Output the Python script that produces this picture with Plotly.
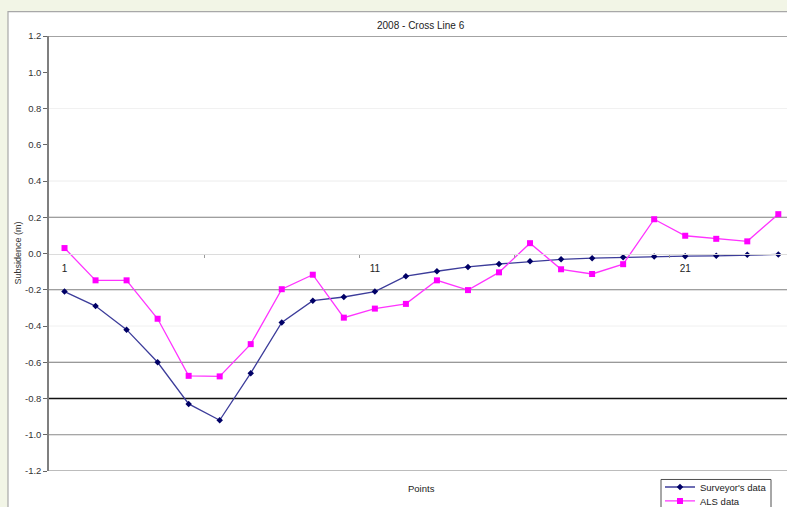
import plotly.graph_objects as go

points = list(range(1, 25))
surveyor = [-0.21, -0.29, -0.42, -0.60, -0.83, -0.92, -0.66, -0.38, -0.26, -0.24,
            -0.21, -0.125, -0.098, -0.074, -0.058, -0.043, -0.032, -0.026, -0.021, -0.016,
            -0.015, -0.013, -0.007, -0.005]
als = [0.03, -0.148, -0.148, -0.36, -0.675, -0.678, -0.50, -0.197, -0.117, -0.354,
       -0.304, -0.278, -0.148, -0.202, -0.104, 0.057, -0.087, -0.113, -0.059, 0.189,
       0.098, 0.081, 0.067, 0.217]
y_ticks = [1.2, 1.0, 0.8, 0.6, 0.4, 0.2, 0.0, -0.2, -0.4, -0.6, -0.8, -1.0, -1.2]
y_tick_labels = ["1.2", "1.0", "0.8", "0.6", "0.4", "0.2", "0.0", "-0.2", "-0.4", "-0.6", "-0.8", "-1.0", "-1.2"]
x_label_vals = [1, 11, 21]
x_label_text = ["1", "11", "21"]
x_tick_marks = [5.5, 10.5, 15.5, 20.5]

# gridline appearance per level (value, colour, width)
grid_styles = [
    (1.2, "#858585", 1.4), (0.8, "#f1f1f1", 1), (0.4, "#ececec", 1),
    (0.2, "#7f7f7f", 1.2), (-0.2, "#7f7f7f", 1.2), (-0.4, "#f0f0f0", 1),
    (-0.6, "#777777", 1.2), (-0.8, "#111111", 1.6), (-1.0, "#8a8a8a", 1.2),
    (-1.2, "#7a7a7a", 1.2),
]

FONT = "Liberation Sans, Arial, sans-serif"
XRANGE = [0.5, 24.28]
W, H = 787, 507
ML, MT, MB = 49, 35.5, 35.5
PH = H - MT - MB
PW = W - ML


def px_x(px):
    return (px - ML) / PW


def px_y(py):
    return (H - MB - py) / PH


fig = go.Figure()

shapes = [
    dict(type="rect", xref="paper", yref="paper", x0=px_x(8), x1=px_x(800), y0=px_y(520), y1=px_y(11),
         fillcolor="white", line=dict(color="#a8a8a8", width=1.2), layer="below"),
]
for val, col, w in grid_styles:
    shapes.append(dict(type="line", xref="paper", yref="y", x0=0, x1=1, y0=val, y1=val,
                       line=dict(color=col, width=w), layer="below"))
# legend frame
shapes.append(dict(type="rect", xref="paper", yref="paper", x0=px_x(661), x1=px_x(771),
                   y0=px_y(520), y1=px_y(480), fillcolor="white",
                   line=dict(color="#505050", width=1), layer="above"))

fig.add_trace(go.Scatter(
    x=points, y=surveyor, name="Surveyor's data", mode="lines+markers",
    line=dict(color="#3c3c9a", width=1.3),
    marker=dict(symbol="diamond", size=5, color="#000066"),
    legend="legend",
))
fig.add_trace(go.Scatter(
    x=points, y=als, name="ALS data", mode="lines+markers",
    line=dict(color="#ff33ff", width=1.3),
    marker=dict(symbol="square", size=6, color="#ff00ff"),
    legend="legend2",
))
# invisible trace on xaxis2 to activate it
fig.add_trace(go.Scatter(x=[XRANGE[0]], y=[0], xaxis="x2", mode="markers",
                         marker=dict(opacity=0), showlegend=False, hoverinfo="skip"))

legend_common = dict(xanchor="left", yanchor="top", bgcolor="rgba(0,0,0,0)", borderwidth=0,
                     font=dict(size=9.5, color="#222222"), tracegroupgap=0)

fig.update_layout(
    width=W, height=H, autosize=False,
    margin=dict(l=ML, r=0, t=MT, b=MB, pad=0, autoexpand=False),
    paper_bgcolor="#f2f5e6", plot_bgcolor="white",
    font=dict(family=FONT, size=9, color="#222222"),
    shapes=shapes,
    xaxis=dict(range=XRANGE, anchor="free", position=0.5, showgrid=False, zeroline=False,
               showline=True, linecolor="#dcdcdc", linewidth=1,
               tickmode="array", tickvals=x_label_vals, ticktext=x_label_text,
               ticks="outside", ticklen=5, tickcolor="rgba(0,0,0,0)",
               tickfont=dict(size=10, color="#222222")),
    xaxis2=dict(range=XRANGE, overlaying="x", anchor="free", position=0.5, side="bottom",
                showgrid=False, zeroline=False, showline=False,
                tickmode="array", tickvals=x_tick_marks, showticklabels=False,
                ticks="outside", ticklen=3, tickcolor="#9a9a9a", tickwidth=1),
    yaxis=dict(range=[-1.2, 1.2], showgrid=False, zeroline=False,
               showline=True, linecolor="#7f7f7f", linewidth=1.5,
               tickmode="array", tickvals=y_ticks, ticktext=y_tick_labels,
               ticks="outside", ticklen=4, tickcolor="#666666", tickwidth=1,
               tickfont=dict(size=9.5, color="#333333")),
    legend=dict(x=px_x(660), y=px_y(473), **legend_common),
    legend2=dict(x=px_x(660), y=px_y(487), **legend_common),
    annotations=[
        dict(text="2008 - Cross Line 6", xref="x", x=12.5, yref="paper", y=1, yshift=10.5,
             yanchor="middle", showarrow=False, font=dict(size=10, color="#222222")),
        dict(text="Points", xref="x", x=12.5, yref="paper", y=0, yshift=-17.5,
             yanchor="middle", showarrow=False, font=dict(size=9.5, color="#222222")),
        dict(text="Subsidence (m)", xref="paper", x=0, xshift=-32, xanchor="center",
             yref="paper", y=0.5, yanchor="middle",
             textangle=-90, showarrow=False, font=dict(size=9, color="#333333")),
    ],
)

fig.write_html("out.html", config={"displayModeBar": False},
               post_script="document.body.style.margin='0';document.body.style.overflow='hidden';")
